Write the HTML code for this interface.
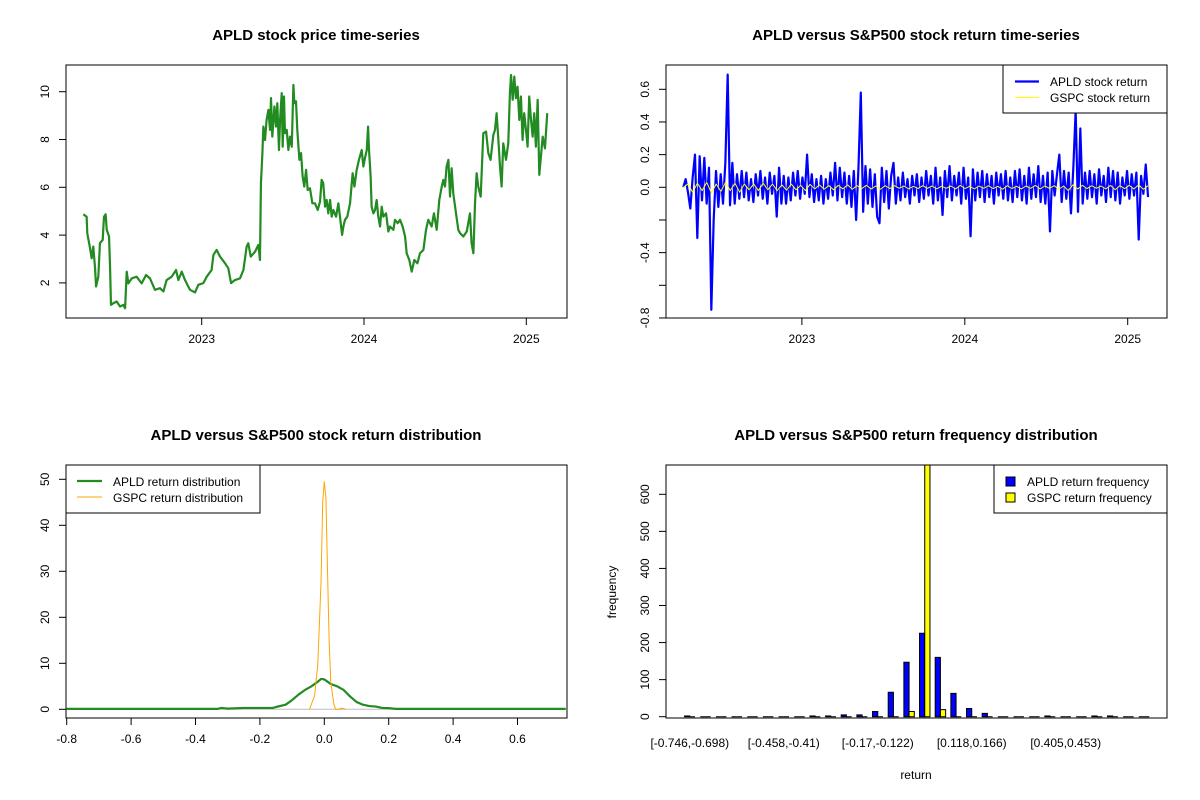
<!DOCTYPE html>
<html><head><meta charset="utf-8"><title>APLD vs S&amp;P500</title>
<style>html,body{margin:0;padding:0;background:#fff}svg{display:block;font-family:"Liberation Sans",Arial,sans-serif}</style>
</head><body>
<svg id="chart" width="1200" height="800" viewBox="0 0 1200 800" xmlns="http://www.w3.org/2000/svg">
<rect x="0" y="0" width="1200" height="800" fill="#fff"/>
<defs>
<clipPath id="clipTL"><rect x="66" y="65" width="501" height="253"/></clipPath>
<clipPath id="clipTR"><rect x="666" y="65" width="501" height="253"/></clipPath>
<clipPath id="clipBL"><rect x="66" y="465" width="501" height="253"/></clipPath>
<clipPath id="clipBR"><rect x="666" y="465" width="501" height="253"/></clipPath>
</defs>
<g id="panels"></g>
</svg>
<script>
// ---------- DATA ----------
const priceDates = [2022.271,2022.291,2022.295,2022.312,2022.322,2022.332,2022.343,2022.349,2022.363,2022.373,2022.390,2022.398,2022.408,2022.415,2022.429,2022.435,2022.441,2022.456,2022.476,2022.497,2022.517,2022.528,2022.538,2022.548,2022.569,2022.599,2022.630,2022.657,2022.681,2022.712,2022.743,2022.764,2022.784,2022.815,2022.842,2022.856,2022.877,2022.897,2022.928,2022.959,2022.979,2023.010,2023.031,2023.061,2023.072,2023.092,2023.113,2023.144,2023.164,2023.181,2023.205,2023.236,2023.257,2023.277,2023.287,2023.302,2023.329,2023.349,2023.359,2023.365,2023.374,2023.380,2023.390,2023.400,2023.411,2023.421,2023.427,2023.435,2023.448,2023.458,2023.466,2023.476,2023.483,2023.493,2023.499,2023.507,2023.513,2023.524,2023.534,2023.544,2023.555,2023.565,2023.571,2023.581,2023.589,2023.602,2023.612,2023.622,2023.632,2023.643,2023.653,2023.667,2023.682,2023.698,2023.715,2023.729,2023.739,2023.749,2023.760,2023.770,2023.780,2023.791,2023.801,2023.811,2023.828,2023.842,2023.852,2023.865,2023.873,2023.883,2023.897,2023.914,2023.930,2023.941,2023.955,2023.969,2023.986,2023.996,2024.008,2024.017,2024.025,2024.031,2024.041,2024.047,2024.058,2024.068,2024.078,2024.088,2024.099,2024.109,2024.119,2024.136,2024.150,2024.160,2024.181,2024.191,2024.208,2024.222,2024.238,2024.253,2024.263,2024.279,2024.294,2024.310,2024.329,2024.345,2024.366,2024.382,2024.396,2024.417,2024.431,2024.448,2024.464,2024.479,2024.489,2024.499,2024.509,2024.520,2024.530,2024.540,2024.550,2024.567,2024.581,2024.592,2024.612,2024.633,2024.653,2024.663,2024.674,2024.684,2024.694,2024.704,2024.719,2024.735,2024.752,2024.766,2024.780,2024.797,2024.807,2024.817,2024.828,2024.838,2024.848,2024.858,2024.875,2024.889,2024.899,2024.906,2024.916,2024.926,2024.936,2024.946,2024.957,2024.967,2024.977,2024.987,2024.998,2025.008,2025.018,2025.029,2025.039,2025.049,2025.059,2025.070,2025.080,2025.090,2025.101,2025.115,2025.129];
const priceValues = [4.87,4.77,4.08,3.45,3.03,3.52,2.61,1.85,2.26,3.66,3.8,4.77,4.87,4.22,3.94,2.75,1.08,1.15,1.22,1.01,1.08,0.94,2.47,1.98,2.19,2.26,1.98,2.33,2.19,1.71,1.78,1.64,2.12,2.26,2.54,2.12,2.47,2.12,1.71,1.6,1.92,1.99,2.26,2.54,3.17,3.38,3.1,2.82,2.61,1.99,2.12,2.19,2.54,3.52,3.66,3.1,3.31,3.59,2.96,6.17,7.43,8.54,7.98,8.82,9.24,8.4,9.73,8.12,9.38,8.54,9.52,7.56,8.82,9.94,7.7,9.8,8.26,8.4,7.56,8.12,7.7,10.28,9.52,9.6,8.4,7.15,7.43,6.45,6.03,6.73,5.89,5.96,5.33,5.33,5.05,5.4,6.31,6.17,5.19,5.47,4.91,5.47,4.77,5.05,4.77,5.33,4.77,4.01,4.36,4.64,4.77,5.33,6.59,6.03,6.73,7.15,7.56,6.87,7.29,7.56,8.54,7.56,6.45,5.19,4.91,5.05,5.47,4.77,4.36,5.19,4.77,4.91,4.15,4.36,4.22,4.64,4.5,4.64,4.36,3.94,3.24,2.96,2.47,2.96,2.82,3.24,3.38,4.22,4.64,4.36,4.91,4.22,5.47,6.03,6.31,6.03,6.87,7.15,5.61,6.8,5.75,4.91,4.22,4.08,3.94,4.15,4.91,3.66,3.24,5.33,6.59,6.03,5.61,8.26,8.33,7.43,7.15,8.19,8.4,9.1,7.98,6.87,6.03,7.84,7.15,7.84,9.94,10.7,9.66,10.63,9.73,10.21,8.82,9.8,7.98,9.1,8.4,7.7,9.8,8.82,8.12,9.1,7.7,9.66,6.52,7.29,8.12,7.63,9.1];
const priceYTicks = [2,4,6,8,10];
const yearTicks = [2023,2024,2025];
const yearLabels = ["2023","2024","2025"];

const returnStart = 2022.272, returnEnd = 2025.125;
const apldReturns = [0.0,0.05,-0.03,-0.13,0.06,0.2,-0.31,0.19,-0.08,0.18,-0.1,0.12,-0.75,-0.2,0.1,-0.12,0.08,-0.1,0.15,0.69,
-0.11,0.15,-0.1,0.08,-0.07,0.1,-0.06,0.09,-0.08,0.05,-0.09,0.08,-0.05,0.1,-0.07,0.06,-0.1,0.09,-0.04,0.07,
-0.18,0.12,-0.1,0.07,-0.1,0.06,-0.08,0.09,-0.05,0.1,-0.07,0.06,-0.04,0.2,-0.06,0.08,-0.09,0.05,-0.08,0.07,
-0.1,0.05,-0.07,0.09,-0.05,0.15,-0.08,0.12,-0.06,0.09,-0.1,0.07,-0.12,0.1,-0.2,0.12,0.58,-0.15,0.13,-0.1,
0.11,-0.12,0.08,-0.18,-0.22,0.12,-0.09,0.1,-0.13,0.07,0.15,-0.1,0.06,-0.08,0.09,-0.06,0.05,-0.1,0.07,-0.05,
0.08,-0.09,0.06,-0.07,0.1,-0.05,0.07,-0.1,0.12,-0.08,0.06,-0.17,0.1,-0.06,0.13,-0.08,0.07,-0.05,0.09,-0.1,
0.12,-0.07,0.06,-0.3,0.11,-0.08,0.09,-0.06,0.1,-0.09,0.08,-0.06,0.07,-0.1,0.09,-0.05,0.08,-0.07,0.1,-0.08,
0.06,-0.09,0.1,-0.06,0.11,-0.08,0.07,-0.1,0.12,-0.07,0.08,-0.06,0.13,-0.09,0.07,-0.1,0.09,-0.27,0.1,-0.05,
0.08,0.2,-0.09,0.1,-0.07,0.09,-0.16,0.12,0.47,-0.15,0.36,-0.1,0.09,-0.07,0.1,-0.06,0.08,-0.1,0.11,-0.05,
0.07,-0.09,0.12,-0.06,0.1,-0.08,0.09,-0.1,0.06,-0.05,0.1,-0.07,0.08,-0.05,0.09,-0.32,0.07,-0.04,0.14,-0.06];
const gspcReturns = [0.0,0.02,-0.03,0.025,-0.02,0.03,-0.035,0.02,-0.025,0.03,-0.02,0.025,-0.03,0.02,-0.015,0.02,-0.02,0.025,-0.015,0.02,
-0.02,0.015,-0.018,0.02,-0.015,0.012,-0.02,0.018,-0.01,0.015,-0.012,0.01,-0.015,0.012,-0.01,0.015,-0.012,0.01,-0.008,0.012,
-0.01,0.008,-0.012,0.01,-0.008,0.01,-0.006,0.008,-0.01,0.006,-0.008,0.01,-0.006,0.008,-0.01,0.007,-0.006,0.008,-0.01,0.012,
-0.008,0.006,-0.01,0.008,-0.006,0.01,-0.008,0.006,-0.012,0.01,-0.008,0.006,-0.01,0.008,-0.006,0.012,-0.01,0.008,-0.006,0.01,
-0.012,0.008,-0.02,0.015,-0.01,0.012,-0.008,0.01,-0.006,0.008,-0.01,0.012,-0.015,0.01,-0.008,0.012,-0.01,0.015,-0.012,0.01];
const returnYTicks = [-0.8,-0.6,-0.4,-0.2,0.0,0.2,0.4,0.6];
const returnYLabels = ["-0.8","","-0.4","","0.0","0.2","0.4","0.6"];

const densX = [-0.8,-0.5,-0.33,-0.32,-0.3,-0.25,-0.2,-0.16,-0.15,-0.12,-0.1,-0.08,-0.06,-0.04,-0.02,-0.01,0.0,0.01,0.02,0.04,0.06,0.08,0.1,0.12,0.14,0.16,0.18,0.2,0.22,0.4,0.75];
const apldDensity = [0.1,0.1,0.1,0.3,0.15,0.3,0.3,0.3,0.5,1.0,2.0,3.2,4.2,5.0,6.0,6.6,6.5,6.0,5.5,5.0,4.2,2.8,1.6,1.0,0.7,0.6,0.3,0.25,0.1,0.1,0.1];
const gspcDensX = [-0.046,-0.03,-0.02,-0.01,-0.005,0.0,0.005,0.01,0.015,0.02,0.03,0.035,0.045,0.05,0.06,0.065];
const gspcDensity = [0,3,10,28,45,49.5,46,30,15,6,1,0,0,0.2,0.2,0];
const densXTicks = [-0.8,-0.6,-0.4,-0.2,0.0,0.2,0.4,0.6];
const densXLabels = ["-0.8","-0.6","-0.4","-0.2","0.0","0.2","0.4","0.6"];
const densYTicks = [0,10,20,30,40,50];

const binLabels = ["[-0.746,-0.698)","[-0.698,-0.65)","[-0.65,-0.602)","[-0.602,-0.554)","[-0.554,-0.506)","[-0.506,-0.458)","[-0.458,-0.41)","[-0.41,-0.362)","[-0.362,-0.314)","[-0.314,-0.266)","[-0.266,-0.218)","[-0.218,-0.17)","[-0.17,-0.122)","[-0.122,-0.0742)","[-0.0742,-0.0262)","[-0.0262,0.0218)","[0.0218,0.0698)","[0.0698,0.118)","[0.118,0.166)","[0.166,0.214)","[0.214,0.262)","[0.262,0.31)","[0.31,0.358)","[0.358,0.405)","[0.405,0.453)","[0.453,0.501)","[0.501,0.549)","[0.549,0.597)","[0.597,0.645)","[0.645,0.693)"];
const apldFreq = [2,0,0,0,0,0,0,0,2,2,5,5,14,66,147,225,160,63,22,9,0,0,0,2,0,0,2,2,0,0];
const gspcFreq = [0,0,0,0,0,0,0,0,0,0,0,0,0,0,14,690,19,0,0,0,0,0,0,0,0,0,0,0,0,0];
const freqYTicks = [0,100,200,300,400,500,600];

// ---------- HELPERS ----------
const NS = "http://www.w3.org/2000/svg";
const root = document.getElementById("panels");
function el(tag, attrs, parent, text) {
  const e = document.createElementNS(NS, tag);
  for (const k in attrs) e.setAttribute(k, attrs[k]);
  if (text !== undefined) e.textContent = text;
  (parent || root).appendChild(e);
  return e;
}
function lin(d0, d1, r0, r1) { return v => r0 + (v - d0) * (r1 - r0) / (d1 - d0); }

function title(x, y, txt, name) {
  const t = el("text", {x: x, y: y, "text-anchor": "middle", "font-size": "15", "font-weight": "bold", fill: "#000"}, null, txt);
  
  
}
function box(x0, y0, x1, y1, name) {
  const r = el("rect", {x: x0, y: y0, width: x1 - x0, height: y1 - y0, fill: "none", stroke: "#000", "stroke-width": 1});
  
  
}
function xAxis(ticks, labels, sx, yb, name) {
  const g = el("g", {});
  
  
  const a = sx(ticks[0]), b = sx(ticks[ticks.length - 1]);
  el("line", {x1: a, y1: yb, x2: b, y2: yb, stroke: "#000"}, g);
  ticks.forEach((t, i) => {
    const x = sx(t);
    el("line", {x1: x, y1: yb, x2: x, y2: yb + 7, stroke: "#000"}, g);
    const tl = el("text", {x: x, y: yb + 25, "text-anchor": "middle", "font-size": "12", fill: "#000"}, g, labels[i]);
    
    
  });
}
function yAxis(ticks, labels, sy, xl, name) {
  const g = el("g", {});
  
  
  const a = sy(ticks[0]), b = sy(ticks[ticks.length - 1]);
  el("line", {x1: xl, y1: a, x2: xl, y2: b, stroke: "#000"}, g);
  ticks.forEach((t, i) => {
    const y = sy(t);
    el("line", {x1: xl, y1: y, x2: xl - 7, y2: y, stroke: "#000"}, g);
    if (labels[i] !== "") {
      const tl = el("text", {x: xl - 17, y: y, "text-anchor": "middle", "font-size": "12", fill: "#000", transform: "rotate(-90 " + (xl - 17) + " " + y + ")"}, g, labels[i]);
      
      
    }
  });
}
function polyline(xs, ys, sx, sy, color, w, clip, name) {
  const pts = xs.map((x, i) => sx(x).toFixed(2) + "," + sy(ys[i]).toFixed(2)).join(" ");
  const p = el("polyline", {points: pts, fill: "none", stroke: color, "stroke-width": w, "stroke-linejoin": "round", "clip-path": "url(#" + clip + ")"});
  
  
}

// ---------- PANEL 1: price ----------
(function () {
  const sx = lin(2023, 2024, 201.7, 364.0);
  const sy = lin(2, 10, 282.9, 91.7);
  title(316, 40, "APLD stock price time-series", "price-chart-title");
  polyline(priceDates, priceValues, sx, sy, "#228B22", 2.2, "clipTL", "apld-price-line");
  box(66, 65, 567, 318, "price-plot-frame");
  xAxis(yearTicks, yearLabels, sx, 318, "price-x-axis");
  yAxis(priceYTicks, priceYTicks.map(String), sy, 66, "price-y-axis");
})();

// ---------- PANEL 2: returns ----------
(function () {
  const sx = lin(2023, 2024, 801.9, 964.8);
  const sy = lin(0, 0.6, 187.3, 89.3);
  title(916, 40, "APLD versus S&P500 stock return time-series", "returns-chart-title");
  const aDates = apldReturns.map((_, i) => returnStart + i * (returnEnd - returnStart) / (apldReturns.length - 1));
  const gDates = gspcReturns.map((_, i) => returnStart + i * (returnEnd - returnStart) / (gspcReturns.length - 1));
  polyline(aDates, apldReturns, sx, sy, "#0000FF", 2.2, "clipTR", "apld-return-line");
  polyline(gDates, gspcReturns, sx, sy, "#FFFF00", 1, "clipTR", "gspc-return-line");
  box(666, 65, 1167, 318, "returns-plot-frame");
  xAxis(yearTicks, yearLabels, sx, 318, "returns-x-axis");
  yAxis(returnYTicks, returnYLabels, sy, 666, "returns-y-axis");
  const lg = el("g", {});
  
  
  el("rect", {x: 1003, y: 65, width: 164, height: 48, fill: "#fff", stroke: "#000"}, lg);
  el("line", {x1: 1015, y1: 81.5, x2: 1039, y2: 81.5, stroke: "#0000FF", "stroke-width": 2.2}, lg);
  el("line", {x1: 1015, y1: 97.5, x2: 1039, y2: 97.5, stroke: "#FFFF00", "stroke-width": 1}, lg);
  const t1 = el("text", {x: 1050, y: 86, "font-size": "12"}, lg, "APLD stock return");
  
  
  const t2 = el("text", {x: 1050, y: 102, "font-size": "12"}, lg, "GSPC stock return");
  
  
})();

// ---------- PANEL 3: density ----------
(function () {
  const sx = lin(0, 0.6, 324.3, 517.5);
  const sy = lin(0, 50, 709.3, 479.3);
  title(316, 440, "APLD versus S&P500 stock return distribution", "distribution-chart-title");
  const zl = el("line", {x1: sx(-0.8), y1: sy(0), x2: sx(0.75), y2: sy(0), stroke: "#BEBEBE", "stroke-width": 1, "clip-path": "url(#clipBL)"});
  
  
  polyline(densX, apldDensity, sx, sy, "#228B22", 2.2, "clipBL", "apld-density-line");
  polyline(gspcDensX, gspcDensity, sx, sy, "#FFA500", 1, "clipBL", "gspc-density-line");
  box(66, 465, 567, 718, "distribution-plot-frame");
  xAxis(densXTicks, densXLabels, sx, 718, "distribution-x-axis");
  yAxis(densYTicks, densYTicks.map(String), sy, 66, "distribution-y-axis");
  const lg = el("g", {});
  
  
  el("rect", {x: 66, y: 465, width: 194, height: 48, fill: "#fff", stroke: "#000"}, lg);
  el("line", {x1: 77, y1: 481, x2: 102, y2: 481, stroke: "#228B22", "stroke-width": 2.2}, lg);
  el("line", {x1: 77, y1: 497, x2: 102, y2: 497, stroke: "#FFA500", "stroke-width": 1}, lg);
  const t1 = el("text", {x: 113, y: 486, "font-size": "12"}, lg, "APLD return distribution");
  
  
  const t2 = el("text", {x: 113, y: 502, "font-size": "12"}, lg, "GSPC return distribution");
  
  
})();

// ---------- PANEL 4: histogram ----------
(function () {
  const n = apldFreq.length;
  const sx = lin(-2.56, 93.4, 666, 1167); // barplot unit coordinates
  const sy = lin(0, 600, 716.7, 494.3);
  title(916, 440, "APLD versus S&P500 return frequency distribution", "frequency-chart-title");
  const g = el("g", {"clip-path": "url(#clipBR)"});
  
  
  function bar(u0, v, color, name) {
    const x0 = sx(u0), x1 = sx(u0 + 1), y0 = sy(0), y1 = sy(v);
    const p = el("path", {d: "M" + x0 + "," + y0 + "V" + y1 + "H" + x1 + "V" + y0 + "Z", fill: color, stroke: "#000", "stroke-width": 1}, g);
    
    
  }
  for (let i = 0; i < n; i++) {
    bar(1 + 3 * i, apldFreq[i], "#0000FF", "apld-bar");
    bar(2 + 3 * i, gspcFreq[i], "#FFFF00", "gspc-bar");
  }
  box(666, 465, 1167, 718, "frequency-plot-frame");
  yAxis(freqYTicks, freqYTicks.map(String), sy, 666, "frequency-y-axis");
  for (let i = 0; i < n; i += 6) {
    const tl = el("text", {x: sx(2 + 3 * i), y: 747, "text-anchor": "middle", "font-size": "12"}, null, binLabels[i]);
    
    
  }
  const xt = el("text", {x: 916, y: 779, "text-anchor": "middle", "font-size": "12"}, null, "return");
  
  
  const yt = el("text", {x: 616, y: 592, "text-anchor": "middle", "font-size": "12", transform: "rotate(-90 616 592)"}, null, "frequency");
  
  
  const lg = el("g", {});
  
  
  el("rect", {x: 994, y: 465, width: 173, height: 48, fill: "#fff", stroke: "#000"}, lg);
  el("rect", {x: 1006, y: 477, width: 9, height: 9, fill: "#0000FF", stroke: "#000"}, lg);
  el("rect", {x: 1006, y: 493, width: 9, height: 9, fill: "#FFFF00", stroke: "#000"}, lg);
  const t1 = el("text", {x: 1027, y: 486, "font-size": "12"}, lg, "APLD return frequency");
  
  
  const t2 = el("text", {x: 1027, y: 502, "font-size": "12"}, lg, "GSPC return frequency");
  
  
})();
</script>
</body></html>
